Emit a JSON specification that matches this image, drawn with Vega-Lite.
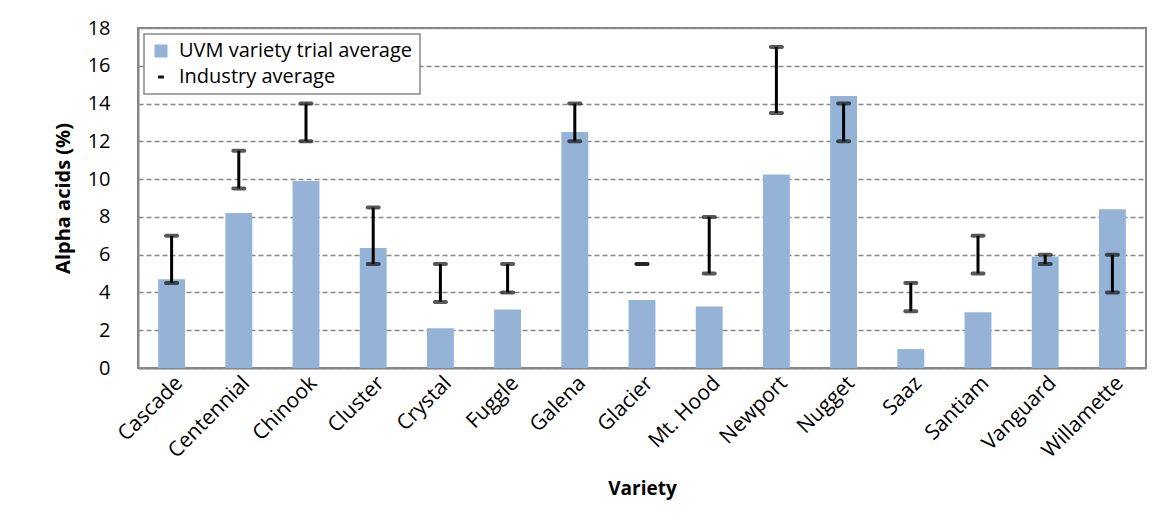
{
  "$schema": "https://vega.github.io/schema/vega-lite/v6.json",
  "width": 1008,
  "height": 340,
  "autosize": "none",
  "padding": {"left": 138, "top": 28, "right": 19, "bottom": 154},
  "background": "white",
  "config": {
    "font": "Open Sans",
    "view": {"stroke": "#888888", "strokeWidth": 2},
    "axis": {"labelFont": "Open Sans", "titleFont": "Open Sans", "labelColor": "#000", "titleColor": "#000"}
  },
  "data": {"values": [
    {"variety": "Cascade", "uvm": 4.7, "low": 4.5, "high": 7},
    {"variety": "Centennial", "uvm": 8.2, "low": 9.5, "high": 11.5},
    {"variety": "Chinook", "uvm": 9.9, "low": 12, "high": 14},
    {"variety": "Cluster", "uvm": 6.35, "low": 5.5, "high": 8.5},
    {"variety": "Crystal", "uvm": 2.1, "low": 3.5, "high": 5.5},
    {"variety": "Fuggle", "uvm": 3.1, "low": 4, "high": 5.5},
    {"variety": "Galena", "uvm": 12.5, "low": 12, "high": 14},
    {"variety": "Glacier", "uvm": 3.6, "low": 5.5, "high": 5.5},
    {"variety": "Mt. Hood", "uvm": 3.25, "low": 5, "high": 8},
    {"variety": "Newport", "uvm": 10.25, "low": 13.5, "high": 17},
    {"variety": "Nugget", "uvm": 14.4, "low": 12, "high": 14},
    {"variety": "Saaz", "uvm": 1.0, "low": 3, "high": 4.5},
    {"variety": "Santiam", "uvm": 2.95, "low": 5, "high": 7},
    {"variety": "Vanguard", "uvm": 5.9, "low": 5.5, "high": 6},
    {"variety": "Willamette", "uvm": 8.4, "low": 4, "high": 6}
  ]},
  "encoding": {
    "x": {
      "field": "variety", "type": "nominal", "sort": null,
      "scale": {"paddingInner": 0.6, "paddingOuter": 0.3},
      "axis": {
        "title": "Variety", "titleFontSize": 19, "titleFontWeight": "bold", "titlePadding": 18,
        "labelAngle": -45, "labelFontSize": 21, "labelPadding": 4, "labelOverlap": false,
        "ticks": false, "domainColor": "#888888", "domainWidth": 2
      }
    }
  },
  "layer": [
    {
      "mark": {"type": "bar", "color": "#95b3d7"},
      "encoding": {
        "y": {
          "field": "uvm", "type": "quantitative",
          "scale": {"domain": [0, 18], "nice": false},
          "axis": {
            "title": "Alpha acids (%)", "titleFontSize": 20, "titleFontWeight": "bold", "titlePadding": 14,
            "values": [0, 2, 4, 6, 8, 10, 12, 14, 16, 18], "labelFontSize": 20, "labelPadding": 28,
            "labelOverlap": false, "labelFlush": false,
            "ticks": false, "domainColor": "#888888", "domainWidth": 2,
            "grid": true, "gridColor": "#888888", "gridDash": [5, 3], "gridWidth": 1.3
          }
        },
        "color": {
          "datum": "UVM variety trial average",
          "type": "nominal",
          "scale": {"domain": ["UVM variety trial average", "Industry average"], "range": ["#95b3d7", "#111111"]},
          "legend": {
            "title": null, "orient": "top-left", "offset": 6,
            "strokeColor": "#888888", "fillColor": "white",
            "padding": 7, "labelFontSize": 20, "labelFont": "Open Sans", "labelColor": "#000",
            "labelLimit": 500,
            "rowPadding": 6, "symbolSize": 170, "labelOffset": 8,
            "encode": {
              "legend": {"update": {"strokeWidth": {"value": 1.5}}},
              "symbols": {"update": {
                "shape": {"signal": "datum.value === 'Industry average' ? 'M-0.45,0H0.45' : 'square'"},
                "stroke": {"signal": "datum.value === 'Industry average' ? '#111111' : '#95b3d7'"},
                "strokeWidth": {"signal": "datum.value === 'Industry average' ? 3 : 0"}
              }}
            }
          }
        }
      }
    },
    {
      "mark": {"type": "rule", "color": "#000000", "strokeWidth": 3},
      "encoding": {
        "y": {
          "field": "low", "type": "quantitative",
          "axis": {
            "title": "Alpha acids (%)", "titleFontSize": 20, "titleFontWeight": "bold", "titlePadding": 14,
            "values": [0, 2, 4, 6, 8, 10, 12, 14, 16, 18], "labelFontSize": 20, "labelPadding": 28,
            "labelOverlap": false, "labelFlush": false,
            "ticks": false, "domainColor": "#888888", "domainWidth": 2,
            "grid": true, "gridColor": "#888888", "gridDash": [5, 3], "gridWidth": 1.3
          }
        },
        "y2": {"field": "high"}
      }
    },
    {
      "transform": [{"fold": ["low", "high"], "as": ["end", "val"]}],
      "mark": {"type": "tick", "thickness": 4, "size": 15, "cornerRadius": 2},
      "encoding": {
        "y": {
          "field": "val", "type": "quantitative",
          "axis": {
            "title": "Alpha acids (%)", "titleFontSize": 20, "titleFontWeight": "bold", "titlePadding": 14,
            "values": [0, 2, 4, 6, 8, 10, 12, 14, 16, 18], "labelFontSize": 20, "labelPadding": 28,
            "labelOverlap": false, "labelFlush": false,
            "ticks": false, "domainColor": "#888888", "domainWidth": 2,
            "grid": true, "gridColor": "#888888", "gridDash": [5, 3], "gridWidth": 1.3
          }
        },
        "color": {"datum": "Industry average", "type": "nominal"}
      }
    }
  ]
}
